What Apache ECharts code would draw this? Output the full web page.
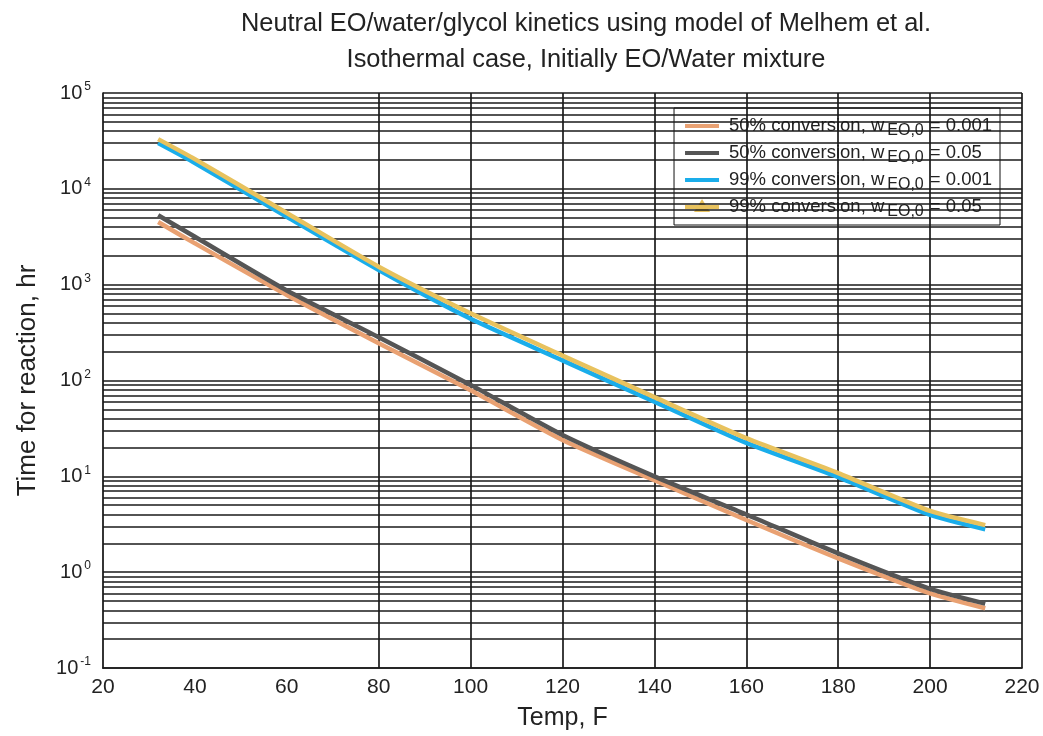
<!DOCTYPE html>
<html>
<head>
<meta charset="utf-8">
<script src="https://cdn.jsdelivr.net/npm/echarts@6/dist/echarts.min.js"></script>
<style>html,body{margin:0;padding:0;background:#fff;}#c{width:1043px;height:736px;}</style>
</head>
<body>
<div id="c"></div>
<script>
// ---- data ----
const temps = [32, 40, 60, 80, 100, 120, 140, 160, 180, 200, 212];
const conv50_w0001 = [4500, 2700, 780, 245, 79, 24, 9.1, 3.5, 1.39, 0.6, 0.42];
const conv50_w005  = [5300, 3160, 870, 283, 90, 27, 10, 4.0, 1.57, 0.67, 0.47];
const conv99_w0001 = [30000, 18600, 5100, 1420, 440, 162, 60, 22.3, 9.8, 3.95, 2.8];
const conv99_w005  = [33000, 20400, 5600, 1540, 502, 182, 67, 25, 10.8, 4.35, 3.1];
const seriesConv = ['50%', '50%', '99%', '99%'];
const seriesW0 = ['0.001', '0.05', '0.001', '0.05'];
const xGridLines = [80, 100, 120, 140, 160, 180, 200, 220];
const yDecades = [-1, 0, 1, 2, 3, 4];
const yMultipliers = [1, 2, 3, 4, 5, 6, 7, 8, 9];
const titleLines = ['Neutral EO/water/glycol kinetics using model of Melhem et al.', 'Isothermal case, Initially EO/Water mixture'];

const colors = ['#E9A172', '#555555', '#1AADEA', '#E8C25E'];
const values = [conv50_w0001, conv50_w005, conv99_w0001, conv99_w005];
const names = seriesConv.map((c, i) => c + ' conversion, w EO,0 = ' + seriesW0[i]);
const legendText = {};
names.forEach((n, i) => { legendText[n] = '{m|' + seriesConv[i] + ' conversion, w}{sub|EO,0}{m|= ' + seriesW0[i] + '}'; });

const hLines = [];
yDecades.forEach(d => yMultipliers.forEach(m => hLines.push({ yAxis: m * Math.pow(10, d) })));
hLines.push({ yAxis: 100000 });
const vLines = xGridLines.map(v => ({ xAxis: v }));

const lineIcon = 'path://M0,0M0,6H34V10H0ZM34,16';
const triIcon = 'path://M0,0M0,6H34V10H0ZM9,13L17,0L25,13ZM34,16';

const font = 'Liberation Sans, Arial, sans-serif';
const chart = echarts.init(document.getElementById('c'), null, { renderer: 'canvas' });

const series = [{
  type: 'line', name: '_grid', data: [], silent: true, z: 1,
  markLine: {
    silent: true, symbol: ['none', 'none'], label: { show: false },
    lineStyle: { color: '#1a1a1a', width: 1.7, type: 'solid' },
    emphasis: { disabled: true },
    animation: false,
    data: hLines.concat(vLines)
  }
}];
values.forEach((arr, i) => {
  series.push({
    type: 'line', name: names[i], z: 5 + i,
    data: temps.map((t, j) => [t, arr[j]]),
    symbol: 'none', showSymbol: false,
    lineStyle: { color: colors[i], width: 4.5 },
    itemStyle: { color: colors[i] },
    smooth: 0.2,
    animation: false
  });
});

chart.setOption({
  backgroundColor: '#fff',
  animation: false,
  title: {
    text: titleLines.join('\n'),
    left: 581, top: 1, textAlign: 'center',
    textStyle: { fontFamily: font, fontSize: 25.4, fontWeight: 'normal', color: '#222', lineHeight: 36 }
  },
  legend: {
    data: names.map((n, i) => ({ name: n, icon: i === 3 ? triIcon : lineIcon })),
    right: 43, top: 108, orient: 'vertical',
    backgroundColor: '#fff', borderColor: '#111', borderWidth: 1,
    padding: [5, 8, 5, 11], itemGap: 1, itemWidth: 34, itemHeight: 16,
    symbolKeepAspect: true,
    formatter: n => legendText[n],
    textStyle: {
      fontFamily: font, fontSize: 18.5, color: '#222',
      rich: {
        m: { fontFamily: font, fontSize: 18.5, color: '#222', lineHeight: 24, padding: [0, 0, 0, 5] },
        sub: { fontFamily: font, fontSize: 16, color: '#222', lineHeight: 14, padding: [10, 1, 0, 3] }
      }
    }
  },
  grid: { left: 103, right: 21, top: 93, bottom: 68, outerBoundsMode: 'none', containLabel: false },
  xAxis: {
    type: 'value', min: 20, max: 220, interval: 20,
    name: 'Temp, F', nameLocation: 'middle', nameGap: 38,
    nameTextStyle: { fontFamily: font, fontSize: 25, color: '#222' },
    axisLine: { show: true, lineStyle: { color: '#111', width: 1.7 } },
    axisTick: { show: false },
    splitLine: { show: false },
    axisLabel: { fontFamily: font, fontSize: 21, color: '#222', margin: 9 }
  },
  yAxis: {
    type: 'log', logBase: 10, min: 0.1, max: 100000, splitNumber: 6,
    name: 'Time for reaction, hr', nameLocation: 'middle', nameGap: 62,
    nameTextStyle: { fontFamily: font, fontSize: 26, color: '#222' },
    axisLine: { show: true, lineStyle: { color: '#111', width: 1.7 } },
    axisTick: { show: false },
    splitLine: { show: false },
    axisLabel: {
      margin: 12,
      formatter: v => '{b|10}{s|' + Math.round(Math.log10(v)) + '}',
      rich: {
        b: { fontFamily: font, fontSize: 20, color: '#222' },
        s: { fontFamily: font, fontSize: 12, color: '#222', padding: [0, 0, 12, 2] }
      }
    }
  },
  series: series
});
</script>
</body>
</html>
